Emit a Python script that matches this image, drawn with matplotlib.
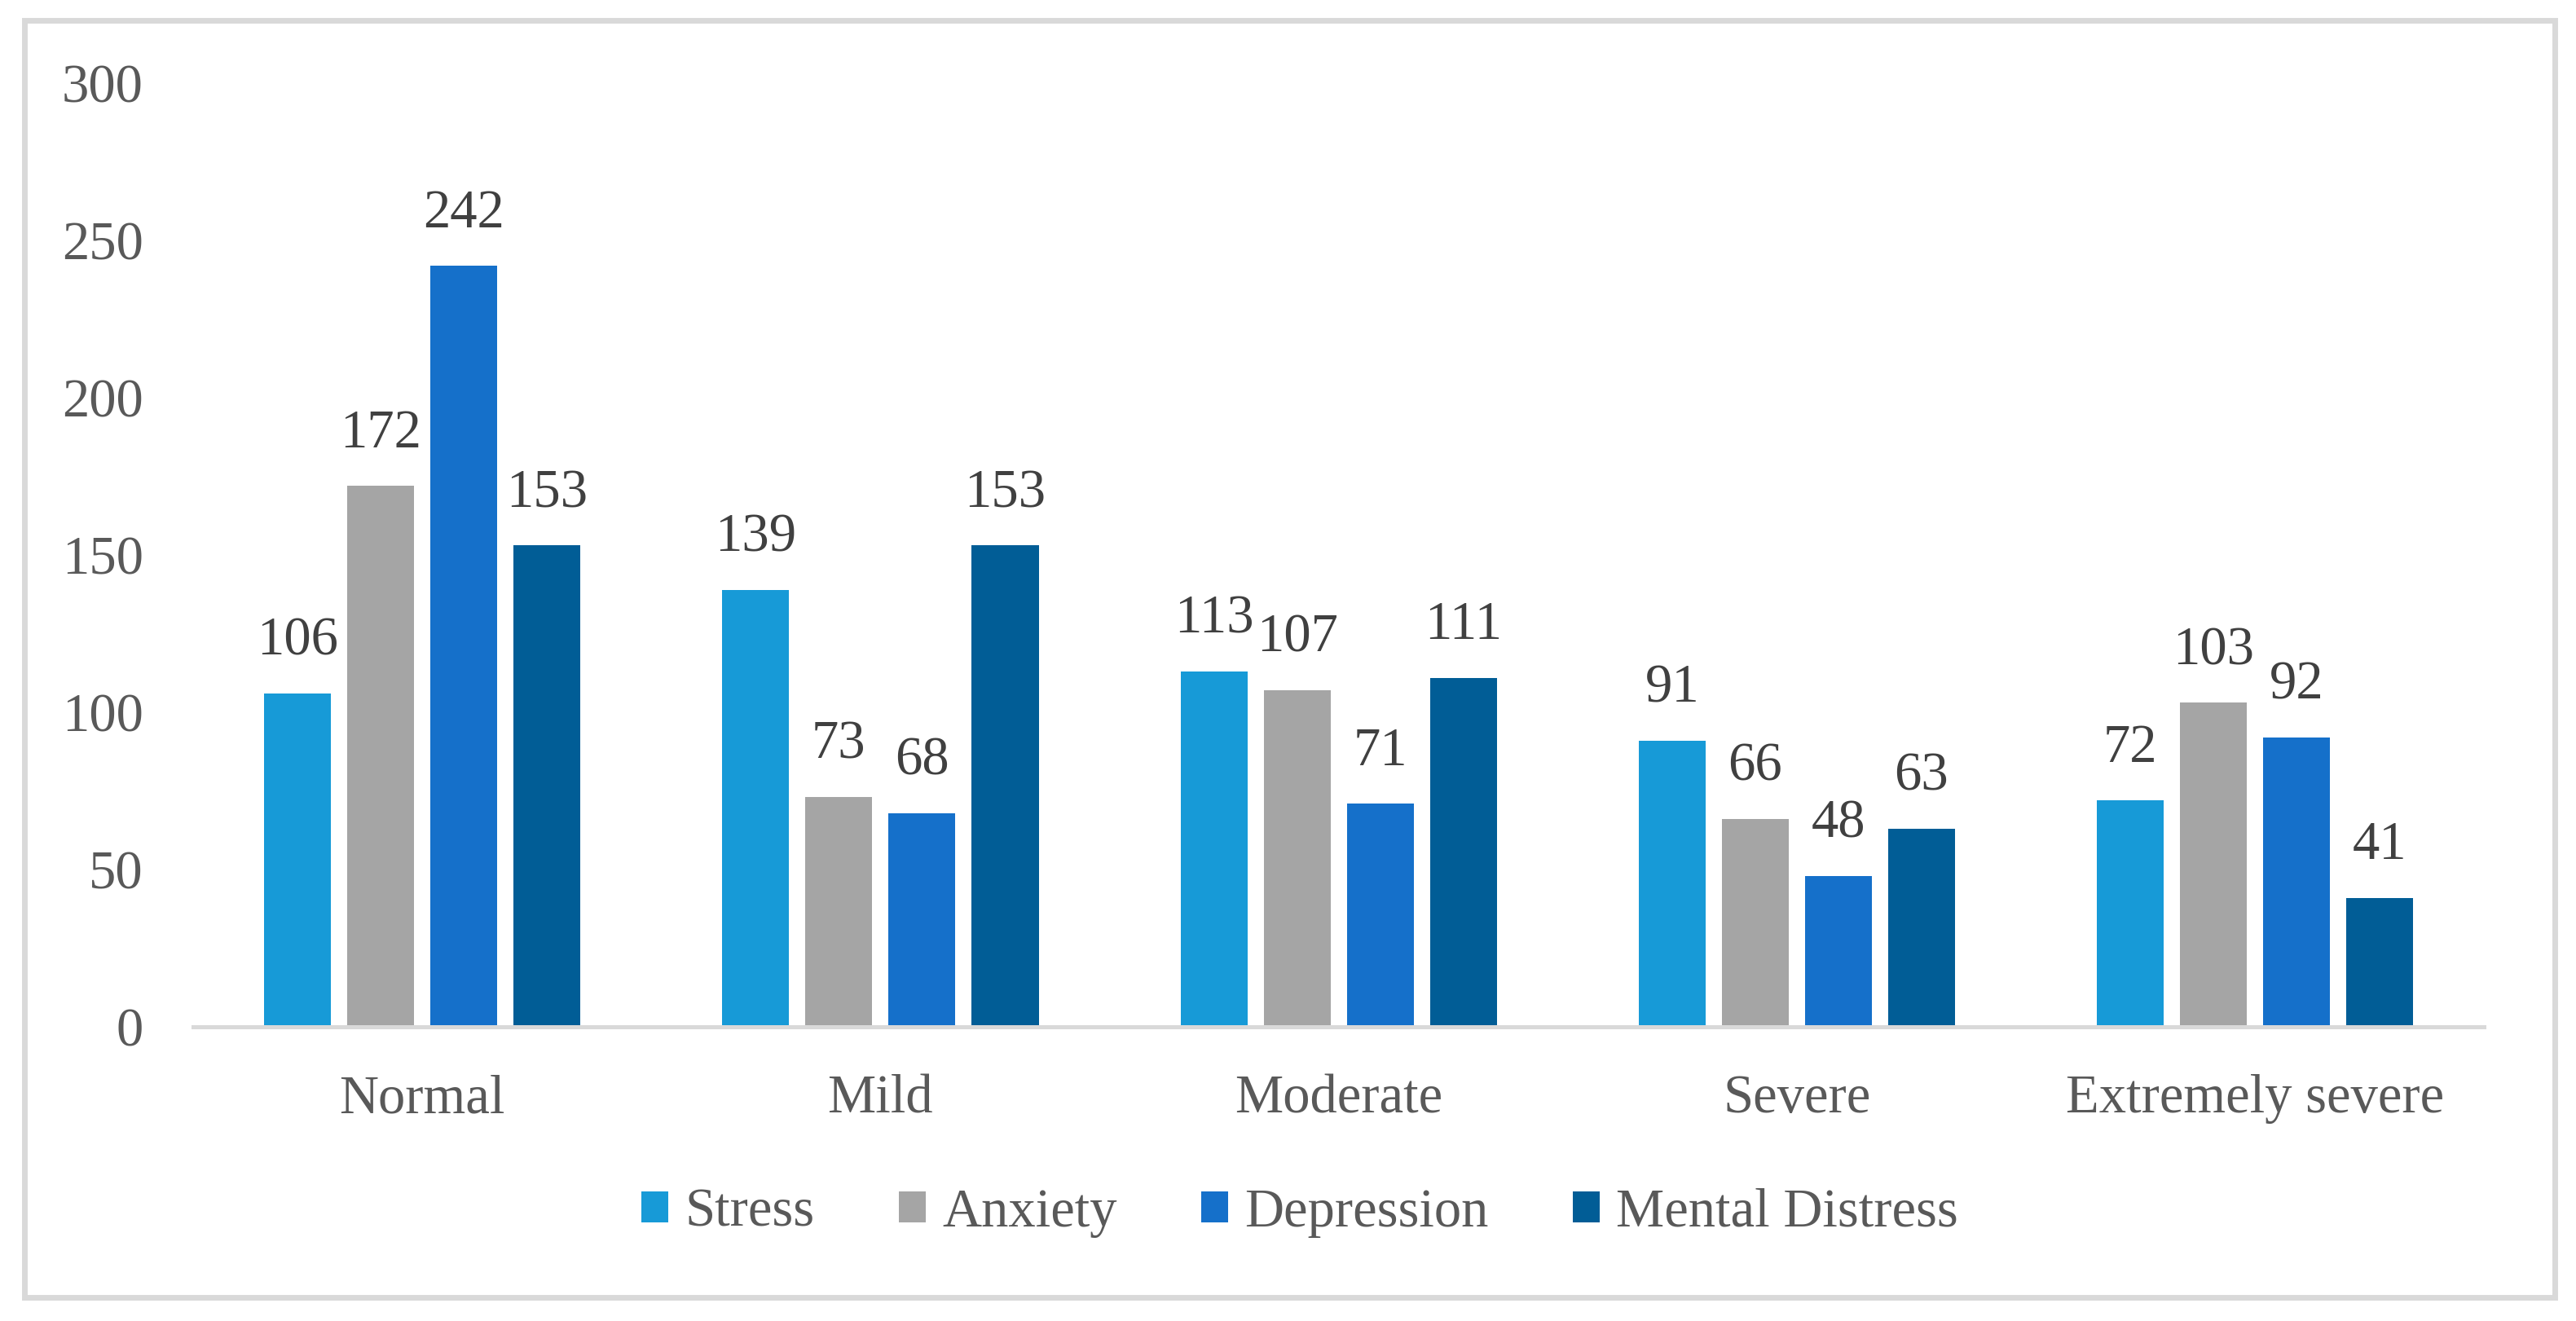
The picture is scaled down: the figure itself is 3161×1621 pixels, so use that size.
import matplotlib
matplotlib.use("Agg")
import matplotlib.pyplot as plt
from matplotlib.patches import Rectangle, Patch
import numpy as np

categories = ["Normal", "Mild", "Moderate", "Severe", "Extremely severe"]
series_names = ["Stress", "Anxiety", "Depression", "Mental Distress"]
stress = [106, 139, 113, 91, 72]
anxiety = [172, 73, 107, 66, 103]
depression = [242, 68, 71, 48, 92]
mental_distress = [153, 153, 111, 63, 41]
yticks = [0, 50, 100, 150, 200, 250, 300]

colors = ["#179AD7", "#A5A5A5", "#1570CA", "#015D96"]
series = [stress, anxiety, depression, mental_distress]

plt.rcParams['font.family'] = ['Liberation Serif', 'DejaVu Serif']
FS = 24

fig = plt.figure(figsize=(31.61 / 2, 16.21 / 2), dpi=200)
ax = fig.add_axes([0.075, 0.2227, 0.9643 - 0.075, 0.937 - 0.2227])

x = np.arange(len(categories))
pitch = 0.1815
width = 0.146
for j, (vals, c, name) in enumerate(zip(series, colors, series_names)):
    bars = ax.bar(x + (j - 1.5) * pitch, vals, width=width, color=c, label=name)
    ax.bar_label(bars, padding=12, fontsize=FS, color="#404040")

ax.set_xlim(-0.5, len(categories) - 0.5)
ax.set_ylim(0, 300)
ax.set_yticks(yticks)
ax.set_xticks(x)
ax.set_xticklabels(categories)
ax.tick_params(axis='y', length=0, pad=22, labelsize=FS, labelcolor="#595959")
ax.tick_params(axis='x', length=0, pad=21, labelsize=FS, labelcolor="#595959")
for s in ['top', 'right', 'left']:
    ax.spines[s].set_visible(False)
ax.spines['bottom'].set_color("#D9D9D9")
ax.spines['bottom'].set_linewidth(1.8)

handles = [Patch(facecolor=c) for c in colors]
fig.legend(handles, series_names, loc='center', bbox_to_anchor=(0.5046, 0.0820),
           ncol=4, frameon=False, fontsize=FS, labelcolor="#595959",
           handlelength=0.5, handleheight=0.5, handletextpad=0.3, columnspacing=1.55)

frame = Rectangle((0.0095, 0.0179), 0.9918 - 0.0095, 0.9846 - 0.0179,
                  transform=fig.transFigure, fill=False, edgecolor="#D9D9D9",
                  linewidth=2.5)
fig.add_artist(frame)

fig.savefig("out.png", dpi=200, facecolor="white")
